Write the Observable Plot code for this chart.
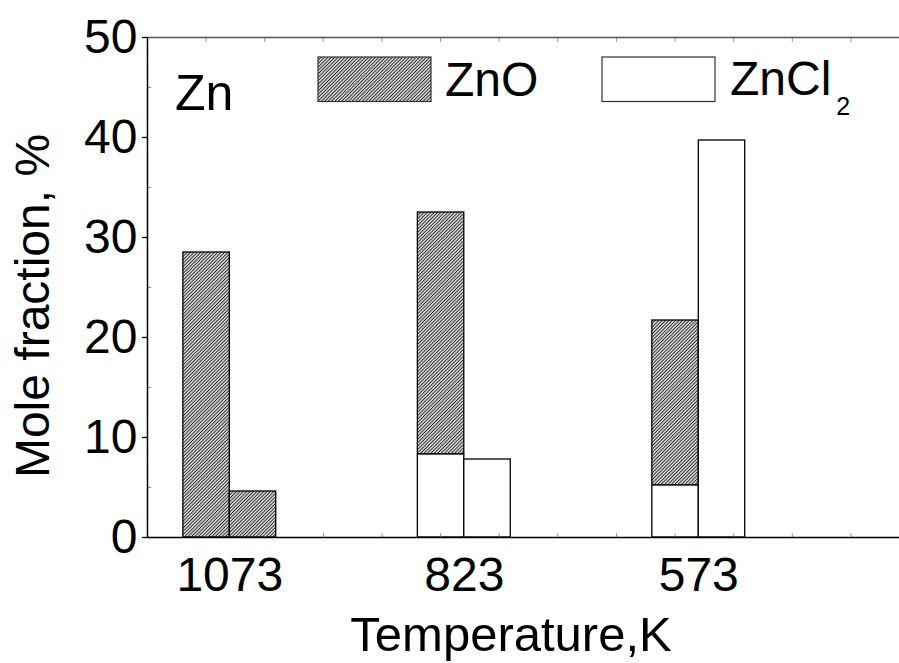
<!DOCTYPE html>
<html><head><meta charset="utf-8">
<script src="https://cdn.jsdelivr.net/npm/d3@7"></script>
<script src="https://cdn.jsdelivr.net/npm/@observablehq/plot@0.6"></script>
<style>
body{margin:0;background:#fff}
svg{font-family:"Liberation Sans",Arial,sans-serif}
</style>
</head><body><div id="chart"></div>
<script>
// ---- data ----
const temperatures = ["1073", "823", "573"];
const leftZnCl2  = [0, 8.3, 5.2];
const leftZnO    = [28.5, 24.2, 16.5];
const rightZnCl2 = [0, 7.8, 39.7];
const rightZnO   = [4.6, 0, 0];
const yTicks = [0, 10, 20, 30, 40, 50];
const yMinorTicks = [5, 15, 25, 35, 45];
const legendLabels = ["Zn", "ZnO", "ZnCl"];
const xTitle = "Temperature,K";
const yTitle = "Mole fraction, %";

// ---- build rects ----
const xDomain = [0.649, 3.856];
const barW = 0.198;
const rows = [];
temperatures.forEach((t, i) => {
  const c = i + 1;
  [[leftZnCl2[i], leftZnO[i], c - barW], [rightZnCl2[i], rightZnO[i], c]].forEach(([cl, o, x1]) => {
    if (cl > 0) rows.push({t, comp: "ZnCl2", x1, x2: x1 + barW, y1: 0, y2: cl});
    if (o > 0) rows.push({t, comp: "ZnO", x1, x2: x1 + barW, y1: cl, y2: cl + o});
  });
});
const xMinor = d3.range(1, 13).map(k => xDomain[0] + k * 0.25).filter(v => v < xDomain[1]);

const plot = Plot.plot({
  width: 899, height: 663,
  marginLeft: 147, marginRight: 0, marginTop: 37, marginBottom: 126,
  style: {fontFamily: '"Liberation Sans", Arial, sans-serif', fontSize: "48px", color: "#000", background: "#fff", overflow: "visible"},
  x: {type: "linear", domain: xDomain},
  y: {domain: [0, 50]},
  marks: [
    Plot.rect(rows.filter(d => d.comp === "ZnO"), {x1: "x1", x2: "x2", y1: "y1", y2: "y2", fill: "url(#hatch)", stroke: "#000", strokeWidth: 1.3}),
    Plot.rect(rows.filter(d => d.comp === "ZnCl2"), {x1: "x1", x2: "x2", y1: "y1", y2: "y2", fill: "#fff", stroke: "#000", strokeWidth: 1.3}),
    Plot.axisY(yTicks, {tickSize: 5, tickPadding: 5, fontSize: 48, label: null, strokeWidth: 1.3}),
    Plot.axisY(yMinorTicks, {tickSize: 4, dx: 4, tickFormat: () => "", label: null, stroke: "#888"}),
    Plot.axisX([1, 2, 3], {tickSize: 0, tickPadding: 19, tickFormat: d => temperatures[d - 1], label: null, fontSize: 48}),
    Plot.axisX(xMinor, {anchor: "bottom", tickSize: 4, dy: -4, tickFormat: () => "", label: null, stroke: "#999"}),
    Plot.axisX(xMinor, {anchor: "top", tickSize: 4, dy: 4, tickFormat: () => "", label: null, stroke: "#999"}),
    Plot.ruleY([50], {stroke: "#555", strokeWidth: 1.5}),
    Plot.ruleY([0], {stroke: "#000", strokeWidth: 1.5}),
    Plot.ruleX([xDomain[0]], {stroke: "#000", strokeWidth: 1.5})
  ]
});

const svg = d3.select(plot);
const defs = svg.insert("defs", ":first-child");
const P = 2.4;
const pat = defs.append("pattern").attr("id", "hatch").attr("patternUnits", "userSpaceOnUse")
  .attr("width", P).attr("height", P).attr("patternTransform", "rotate(45)");
pat.append("rect").attr("width", P).attr("height", P).attr("fill", "#fff");
pat.append("line").attr("x1", P / 2).attr("y1", 0).attr("x2", P / 2).attr("y2", P)
  .attr("stroke", "#222").attr("stroke-width", 1.15);

// titles
svg.append("text").attr("x", 511).attr("y", 651).attr("text-anchor", "middle")
  .attr("font-size", 49).attr("fill", "#000").text(xTitle);
svg.append("text").attr("transform", "translate(49,306) rotate(-90)").attr("text-anchor", "middle")
  .attr("font-size", 48).attr("fill", "#000").text(yTitle);

// legend
svg.append("text").attr("x", 175).attr("y", 110).attr("text-anchor", "start").attr("font-size", 50).attr("fill", "#000").text(legendLabels[0]);
svg.append("rect").attr("x", 318).attr("y", 57).attr("width", 113).attr("height", 44.5)
  .attr("fill", "url(#hatch)").attr("stroke", "#333").attr("stroke-width", 1.2);
svg.append("text").attr("x", 445).attr("y", 96).attr("text-anchor", "start").attr("font-size", 48).attr("fill", "#000").text(legendLabels[1]);
svg.append("rect").attr("x", 602).attr("y", 57).attr("width", 113).attr("height", 44.5)
  .attr("fill", "#fff").attr("stroke", "#333").attr("stroke-width", 1.2);
const t2 = svg.append("text").attr("x", 730).attr("y", 95).attr("text-anchor", "start").attr("font-size", 48).attr("fill", "#000");
t2.append("tspan").text(legendLabels[2]);
t2.append("tspan").attr("font-size", 25).attr("dx", 5).attr("dy", 20).text("2");

document.getElementById("chart").appendChild(plot);
</script>
</body></html>
